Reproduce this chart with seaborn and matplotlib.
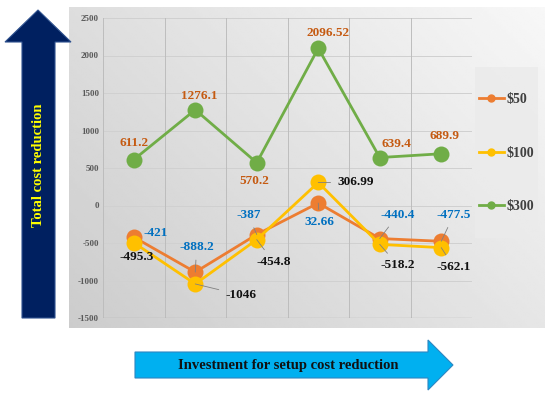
import numpy as np
import pandas as pd
import matplotlib
matplotlib.use("Agg")
import matplotlib.pyplot as plt
from matplotlib.patches import Polygon
from matplotlib.lines import Line2D
import seaborn as sns

# ---------------- data ----------------
categories = ["1", "2", "3", "4", "5", "6"]
series_names = ["$50", "$100", "$300"]
values_50 = [-421, -888.2, -387, 32.66, -440.4, -477.5]
values_100 = [-495.3, -1046, -454.8, 306.99, -518.2, -562.1]
values_300 = [611.2, 1276.1, 570.2, 2096.52, 639.4, 689.9]
label_50 = ["-421", "-888.2", "-387", "32.66", "-440.4", "-477.5"]
label_100 = ["-495.3", "-1046", "-454.8", "306.99", "-518.2", "-562.1"]
label_300 = ["611.2", "1276.1", "570.2", "2096.52", "639.4", "689.9"]
y_ticks = [-1500, -1000, -500, 0, 500, 1000, 1500, 2000, 2500]
y_title = "Total cost reduction"
x_title = "Investment for setup cost reduction"

colors = {"$50": "#ED7D31", "$100": "#FFC000", "$300": "#70AD47"}
label_colors = {"$50": "#0070C0", "$100": "#111111", "$300": "#C55A11"}

# ---------------- figure ----------------
W, H = 550, 395
fig = plt.figure(figsize=(5.5, 3.95), dpi=100)
serif = ["Liberation Serif", "DejaVu Serif"]

# overlay axes in pixel coordinates (background, arrows)
ov = fig.add_axes([0, 0, 1, 1], zorder=0)
ov.set_xlim(0, W)
ov.set_ylim(H, 0)
ov.axis("off")

# gradient panel
gx = np.linspace(0, 1, 200)
gy = np.linspace(0, 1, 200)
GX, GY = np.meshgrid(gx, gy)
t = (GX * 0.6 + (1 - GY) * 0.4)  # lighter towards top-right
grad = 0.80 + 0.17 * t
ov.imshow(grad, cmap="gray", vmin=0, vmax=1, extent=(69, 545, 328, 7),
          aspect="auto", zorder=0, interpolation="bilinear")

# legend box background
ov.add_patch(plt.Rectangle((475, 67), 63, 171, facecolor="#ebebeb",
                           edgecolor="none", alpha=0.85, zorder=1))

# vertical arrow
up = Polygon([(22, 318), (55, 318), (55, 42), (71, 42), (38, 10), (5, 42), (22, 42)],
             closed=True, facecolor="#002060", edgecolor="#2F528F", lw=0.8, zorder=2)
ov.add_patch(up)
ov.text(38, 165, y_title, rotation=90, ha="center", va="center", color="#FFFF00",
        fontsize=10.5, fontweight="bold", family=serif, zorder=3)

# horizontal arrow
rt = Polygon([(135, 352), (428, 352), (428, 340), (453, 365), (428, 390), (428, 378), (135, 378)],
             closed=True, facecolor="#00B0F0", edgecolor="#2E86C1", lw=0.8, zorder=2)
ov.add_patch(rt)
ov.text(288, 366, x_title, ha="center", va="center", color="#111111",
        fontsize=10.5, fontweight="bold", family=serif, zorder=3)

# ---------------- main plot ----------------
left, right = 103 / W, 472 / W
bottom, top = 1 - 318 / H, 1 - 18 / H
ax = fig.add_axes([left, bottom, right - left, top - bottom], zorder=2)
ax.set_facecolor("none")

xpos = list(range(len(categories)))
df = pd.DataFrame({
    "x": xpos * 3,
    "value": values_50 + values_100 + values_300,
    "series": [series_names[0]] * 6 + [series_names[1]] * 6 + [series_names[2]] * 6,
})

sns.lineplot(data=df, x="x", y="value", hue="series", palette=colors,
             marker="o", markersize=11.5, markeredgewidth=0, linewidth=2.0,
             ax=ax, legend=False, sort=False)

ax.set_xlim(-0.5, len(categories) - 0.5)
ax.set_ylim(y_ticks[0], y_ticks[-1])
ax.set_yticks(y_ticks)
ax.set_yticklabels([str(v) for v in y_ticks], family=serif, fontweight="bold",
                   fontsize=6.5, color="#595959")
ax.set_xticks([])
ax.set_xticks([i - 0.5 for i in range(len(categories) + 1)], minor=True)
ax.tick_params(axis="y", length=0, pad=3)
ax.tick_params(axis="x", which="both", length=0)
ax.grid(False)
for v in y_ticks:
    ax.axhline(v, color="#d0d0d0", lw=0.7, zorder=0)
for i in range(len(categories) + 1):
    ax.axvline(i - 0.5, color="#bdbdbd", lw=0.7, zorder=0)
ax.axhline(y_ticks[0], color="#a6a6a6", lw=0.9, zorder=0)
for s in ax.spines.values():
    s.set_visible(False)
ax.set_xlabel("")
ax.set_ylabel("")

# data labels (offsets in points)
off_300 = [(0, 12), (3, 10), (-2, -13), (7, 11), (12, 10), (2, 13)]
off_50 = [(16, 3), (1, 18), (-6, 14), (1, -14), (13, 17), (9, 19)]
off_100 = [(2, -10), (33, -8), (12, -16), (27, 0), (13, -15), (9, -14)]
leader_50 = [False, True, True, True, True, True]
leader_100 = [False, True, True, True, True, True]


def put_labels(vals, labels, offs, name, leaders=None):
    for i, (v, lab, off) in enumerate(zip(vals, labels, offs)):
        kw = {}
        if leaders is not None and leaders[i]:
            kw["arrowprops"] = dict(arrowstyle="-", color="#808080", lw=0.6,
                                    shrinkA=3, shrinkB=0)
        ax.annotate(lab, xy=(xpos[i], v), xytext=off, textcoords="offset points",
                    ha="center", va="center", color=label_colors[name],
                    fontsize=9.5, fontweight="bold", family=serif, zorder=5,
                    annotation_clip=False, **kw)


put_labels(values_300, label_300, off_300, "$300")
put_labels(values_50, label_50, off_50, "$50", leader_50)
put_labels(values_100, label_100, off_100, "$100", leader_100)

# legend
handles = [Line2D([0], [0], color=colors[n], lw=2, marker="o", markersize=5) for n in series_names]
leg = fig.legend(handles, [n.replace("$", r"\$") for n in series_names],
                 loc="center", bbox_to_anchor=(506.5 / W, 1 - 153 / H),
                 frameon=False, labelspacing=2.9, handlelength=1.8, handletextpad=0.2,
                 prop={"family": serif, "weight": "bold", "size": 10})
for txt in leg.get_texts():
    txt.set_color("#404040")

fig.savefig("out.png", dpi=100)
